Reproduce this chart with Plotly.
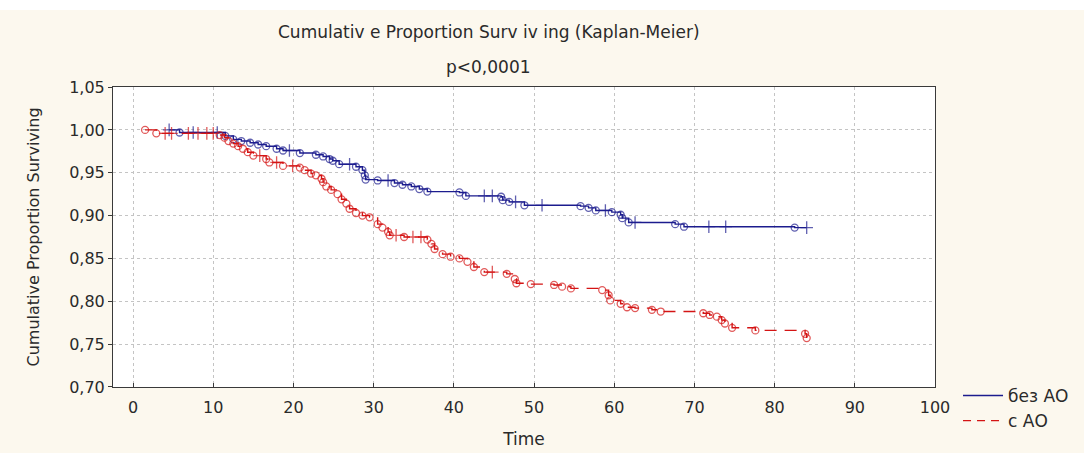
import plotly.graph_objects as go

# ---- data ----
blue_name = "без АО"
blue_time = [4.5, 5.8, 7.5, 10.5, 11.5, 12.5, 13.5, 14.6, 15.6, 16.6, 17.9, 18.7, 19.5, 20.8,
             22.8, 23.7, 24.5, 24.9, 25.7, 27.0, 27.8, 28.6, 28.9, 29.0, 30.5, 31.8, 32.6,
             33.6, 34.7, 35.7, 36.7, 40.7, 41.5, 43.8, 44.8, 45.9, 46.1, 46.9, 47.7, 48.8,
             51.0, 55.8, 56.8, 57.7, 58.9, 59.7, 60.8, 61.0, 61.8, 62.6, 67.6, 68.7, 71.8,
             73.9, 82.5, 84.0]
blue_surv = [1.000, 0.997, 0.997, 0.997, 0.993, 0.989, 0.987, 0.985, 0.983, 0.981, 0.978, 0.976,
             0.976, 0.973, 0.971, 0.969, 0.966, 0.964, 0.960, 0.960, 0.957, 0.953, 0.947, 0.942,
             0.941, 0.941, 0.938, 0.936, 0.934, 0.931, 0.928, 0.927, 0.923, 0.923, 0.923, 0.922,
             0.918, 0.916, 0.916, 0.912, 0.912, 0.911, 0.909, 0.906, 0.906, 0.904, 0.901, 0.897,
             0.892, 0.892, 0.890, 0.887, 0.887, 0.887, 0.886, 0.886]
blue_kind = ["+", "o", "+", "+", "o", "o", "o", "o", "o", "o", "o", "o", "+", "o",
             "o", "o", "o", "o", "o", "+", "o", "o", "o", "o", "o", "+", "o",
             "o", "o", "o", "o", "o", "o", "+", "+", "o", "o", "o", "+", "o",
             "+", "o", "o", "o", "+", "o", "o", "o", "o", "+", "o", "o", "+",
             "+", "o", "+"]

red_name = "с АО"
red_time = [1.5, 2.9, 4.0, 4.8, 6.9, 8.1, 9.2, 10.0, 10.8, 11.4, 11.9, 12.5, 13.1, 13.7, 14.3,
            15.0, 15.8, 16.6, 17.0, 17.9, 18.7, 19.9, 20.8, 21.4, 22.2, 22.8, 23.5, 23.7, 24.1,
            24.7, 25.5, 26.0, 26.6, 27.0, 27.8, 28.6, 29.5, 30.5, 31.1, 31.8, 32.0, 32.8, 33.8,
            34.9, 35.9, 36.7, 37.2, 37.6, 38.6, 39.6, 40.7, 41.7, 42.5, 43.8, 44.8, 46.6, 47.6,
            47.8, 49.6, 52.5, 53.5, 54.6, 58.5, 59.3, 59.5, 60.8, 61.6, 62.6, 64.7, 65.8, 71.1,
            71.9, 72.8, 73.4, 73.8, 74.7, 77.6, 83.8, 84.0]
red_surv = [1.000, 0.996, 0.996, 0.996, 0.996, 0.996, 0.996, 0.996, 0.994, 0.991, 0.987, 0.984,
            0.981, 0.978, 0.974, 0.970, 0.970, 0.966, 0.962, 0.962, 0.958, 0.958, 0.956, 0.953,
            0.949, 0.947, 0.943, 0.939, 0.934, 0.930, 0.925, 0.919, 0.914, 0.908, 0.903, 0.900,
            0.898, 0.890, 0.886, 0.881, 0.877, 0.877, 0.875, 0.875, 0.875, 0.872, 0.867, 0.861,
            0.855, 0.852, 0.850, 0.846, 0.840, 0.834, 0.834, 0.832, 0.826, 0.821, 0.820, 0.819,
            0.817, 0.815, 0.813, 0.807, 0.801, 0.797, 0.793, 0.792, 0.790, 0.788, 0.786, 0.784,
            0.782, 0.778, 0.774, 0.769, 0.766, 0.762, 0.757]
red_kind = ["o", "o", "+", "+", "+", "+", "+", "+", "o", "o", "o", "o", "o", "o", "o",
            "o", "+", "o", "o", "+", "o", "+", "o", "o", "o", "o", "o", "o", "o",
            "o", "o", "o", "o", "o", "o", "o", "o", "o", "o", "o", "o", "+", "o",
            "+", "+", "o", "o", "o", "o", "o", "o", "o", "o", "o", "+", "o", "o",
            "o", "o", "o", "o", "o", "o", "o", "o", "o", "o", "o", "o", "o", "o",
            "o", "o", "o", "o", "o", "o", "o", "o"]

title_text = "Cumulativ e Proportion Surv iv ing (Kaplan-Meier)"
subtitle_text = "p&lt;0,0001"
x_title = "Time"
y_title = "Cumulative Proportion Surviving"
x_ticks = [0, 10, 20, 30, 40, 50, 60, 70, 80, 90, 100]
y_ticks = [0.70, 0.75, 0.80, 0.85, 0.90, 0.95, 1.00, 1.05]

BLUE = "#1c1c8e"
RED = "#d41414"
FONT = "DejaVu Sans"
TXT = "#2a2a2a"

sym = {"o": "circle-open", "+": "cross-thin-open"}

fig = go.Figure()
for t, s, k, col, dash in [(blue_time, blue_surv, blue_kind, BLUE, "solid"),
                           (red_time, red_surv, red_kind, RED, "12px,8px")]:
    fig.add_trace(go.Scatter(
        x=t, y=s, mode="lines+markers", line_shape="hv",
        line=dict(color=col, width=1.4, dash=dash),
        marker=dict(symbol=[sym[v] for v in k], size=[7 if v == "o" else 9 for v in k],
                    color=col, line=dict(color=col, width=1.3)),
        showlegend=False, hoverinfo="x+y"))

for name, col, dash in [(blue_name, BLUE, "solid"), (red_name, RED, "8px,6px")]:
    fig.add_trace(go.Scatter(x=[None], y=[None], mode="lines", name=name,
                             line=dict(color=col, width=1.4, dash=dash)))

axis_common = dict(showline=True, linecolor="#3a3a3a", linewidth=1, mirror=True,
                   showgrid=True, gridcolor="#c4c4c4", griddash="dot", gridwidth=1,
                   zeroline=False, tickfont=dict(family=FONT, size=16, color=TXT),
                   ticklen=4, tickcolor="#3a3a3a", automargin=False)

fig.update_xaxes(range=[-2.5, 100], tickmode="array", tickvals=x_ticks, ticks="inside",
                 ticklabelstandoff=6,
                 title=dict(text=x_title, font=dict(family=FONT, size=17, color=TXT), standoff=16),
                 **axis_common)
fig.update_yaxes(range=[0.6999, 1.0501], tickmode="array", tickvals=y_ticks,
                 ticktext=[f"{v:.2f}".replace(".", ",") for v in y_ticks], ticks="outside",
                 title=dict(text=y_title, font=dict(family=FONT, size=16, color=TXT), standoff=25),
                 **axis_common)

fig.add_annotation(text=title_text, xref="paper", yref="paper", x=0.457, y=1.183,
                   yanchor="middle", showarrow=False, font=dict(family=FONT, size=17, color=TXT))
fig.add_annotation(text=subtitle_text, xref="paper", yref="paper", x=0.457, y=1.067,
                   yanchor="middle", showarrow=False, font=dict(family=FONT, size=17, color=TXT))

fig.add_shape(type="rect", xref="paper", yref="paper", x0=-0.3, x1=1.4, y0=1.257, y1=1.4,
              fillcolor="white", line=dict(width=0), layer="below")

fig.update_layout(
    width=1084, height=453,
    margin=dict(l=113, r=149, t=87, b=66, autoexpand=False),
    paper_bgcolor="#fcf8ee", plot_bgcolor="white",
    legend=dict(x=1.028, y=0.03, xanchor="left", yanchor="top",
                font=dict(family=FONT, size=17, color=TXT), bgcolor="rgba(0,0,0,0)",
                tracegroupgap=0, itemwidth=40),
    font=dict(family=FONT, color=TXT),
)

fig.write_html("out.html")
